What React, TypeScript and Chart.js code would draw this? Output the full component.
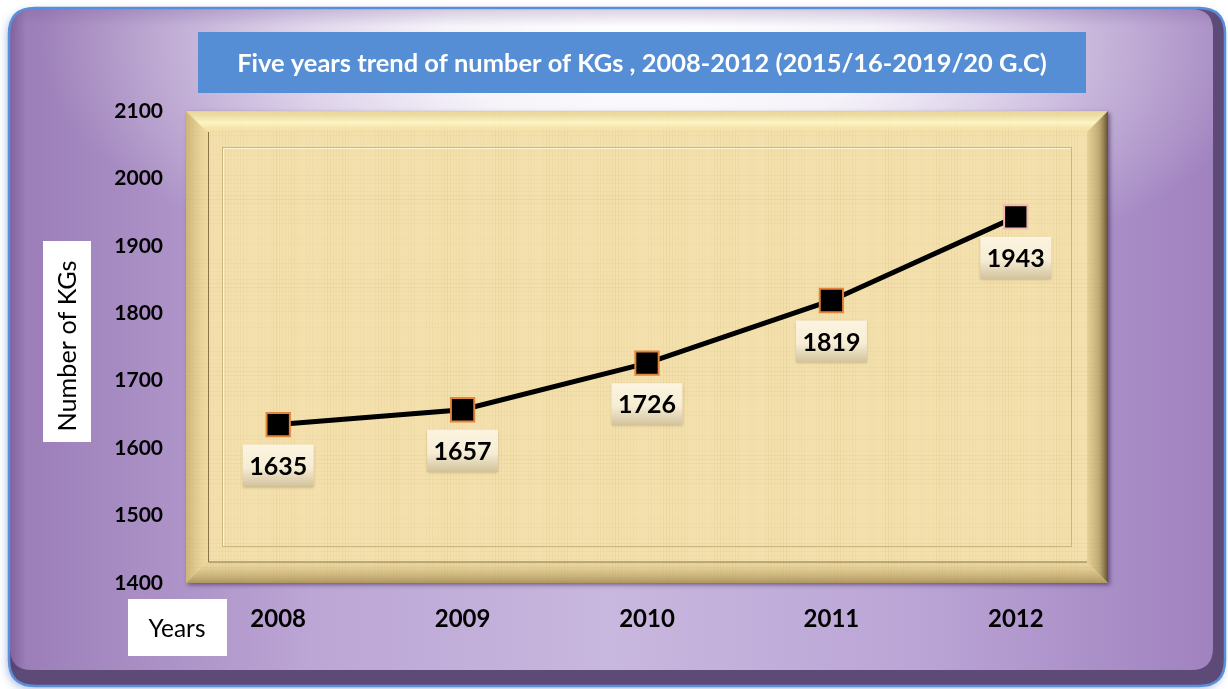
import React, { useEffect, useRef } from 'react';
import { Chart, registerables } from 'chart.js';
Chart.register(...registerables);

const years = ['2008', '2009', '2010', '2011', '2012'];
const kgCounts = [1635, 1657, 1726, 1819, 1943];
const yMin = 1400;
const yMax = 2100;
const yStep = 100;
const titleText = 'Five years trend of number of KGs , 2008-2012 (2015/16-2019/20 G.C)';
const yAxisTitle = 'Number of KGs';
const xAxisTitle = 'Years';
const markerBorders = ['#E3843A', '#E3843A', '#E3843A', '#E3843A', '#F2B9B0'];

const FONT = 'Lato, "Open Sans", sans-serif';

function rr(ctx: CanvasRenderingContext2D, x: number, y: number, w: number, h: number, r: number) {
  ctx.beginPath();
  ctx.moveTo(x + r, y);
  ctx.lineTo(x + w - r, y);
  ctx.quadraticCurveTo(x + w, y, x + w, y + r);
  ctx.lineTo(x + w, y + h - r);
  ctx.quadraticCurveTo(x + w, y + h, x + w - r, y + h);
  ctx.lineTo(x + r, y + h);
  ctx.quadraticCurveTo(x, y + h, x, y + h - r);
  ctx.lineTo(x, y + r);
  ctx.quadraticCurveTo(x, y, x + r, y);
  ctx.closePath();
}

function fitSize(ctx: CanvasRenderingContext2D, text: string, weight: string, targetW: number) {
  ctx.font = `${weight} 100px ${FONT}`;
  const w = ctx.measureText(text).width;
  return (100 * targetW) / w;
}

function poly(ctx: CanvasRenderingContext2D, pts: number[][], fill: any) {
  ctx.beginPath();
  ctx.moveTo(pts[0][0], pts[0][1]);
  for (let i = 1; i < pts.length; i++) ctx.lineTo(pts[i][0], pts[i][1]);
  ctx.closePath();
  ctx.fillStyle = fill;
  ctx.fill();
}

const backgroundPlugin = {
  id: 'bgDecor',
  beforeDraw(chart: any) {
    const ctx: CanvasRenderingContext2D = chart.ctx;
    const W = chart.width;
    const H = chart.height;
    ctx.save();
    ctx.fillStyle = '#ffffff';
    ctx.fillRect(0, 0, W, H);

    ctx.save();
    ctx.shadowColor = 'rgba(70,110,190,0.45)';
    ctx.shadowBlur = 8;
    ctx.shadowOffsetX = -2;
    ctx.shadowOffsetY = 3;
    rr(ctx, 9, 8, 1216, 678, 26);
    ctx.fillStyle = '#5D4A77';
    ctx.fill();
    ctx.restore();

    ctx.save();
    rr(ctx, 9, 8, 1216, 678, 26);
    ctx.clip();
    rr(ctx, 10, 9, 1203, 661, 22);
    const g = ctx.createLinearGradient(10, 0, 1213, 0);
    g.addColorStop(0, '#9A7CB7');
    g.addColorStop(0.25, '#BCA6D5');
    g.addColorStop(0.5, '#C8B7DE');
    g.addColorStop(0.75, '#BBA5D6');
    g.addColorStop(1, '#A082BF');
    ctx.fillStyle = g;
    ctx.fill();
    ctx.save();
    rr(ctx, 10, 9, 1203, 661, 22);
    ctx.clip();
    ctx.translate(660, 45);
    ctx.scale(1, 0.42);
    const rg = ctx.createRadialGradient(0, 0, 0, 0, 0, 620);
    rg.addColorStop(0, 'rgba(255,255,255,1)');
    rg.addColorStop(0.35, 'rgba(255,255,255,0.85)');
    rg.addColorStop(0.7, 'rgba(255,255,255,0.35)');
    rg.addColorStop(1, 'rgba(255,255,255,0)');
    ctx.fillStyle = rg;
    ctx.fillRect(-700, -700, 1400, 1400);
    ctx.restore();
    const lg = ctx.createLinearGradient(10, 0, 26, 0);
    lg.addColorStop(0, 'rgba(80,50,110,0.35)');
    lg.addColorStop(1, 'rgba(80,50,110,0)');
    ctx.fillStyle = lg;
    ctx.fillRect(10, 9, 16, 661);
    const tg = ctx.createLinearGradient(0, 9, 0, 26);
    tg.addColorStop(0, 'rgba(120,90,150,0.25)');
    tg.addColorStop(1, 'rgba(120,90,150,0)');
    ctx.fillStyle = tg;
    ctx.fillRect(10, 9, 1203, 17);
    ctx.restore();

    rr(ctx, 9, 8, 1216, 678, 26);
    ctx.strokeStyle = '#5A8ED8';
    ctx.lineWidth = 2.5;
    ctx.stroke();

    ctx.fillStyle = '#558ED5';
    ctx.fillRect(198, 32, 888, 61);
    const ts = fitSize(ctx, titleText, 'bold', 810);
    ctx.font = `bold ${ts}px ${FONT}`;
    ctx.fillStyle = '#ffffff';
    ctx.textAlign = 'center';
    ctx.textBaseline = 'middle';
    ctx.fillText(titleText, 642, 64);

    ctx.fillStyle = '#ffffff';
    ctx.fillRect(43, 241, 48, 201);
    ctx.fillRect(128, 599, 99, 57);
    ctx.fillStyle = '#000000';
    const ys = fitSize(ctx, yAxisTitle, 'normal', 171);
    ctx.save();
    ctx.translate(68, 346);
    ctx.rotate(-Math.PI / 2);
    ctx.font = `normal ${ys}px ${FONT}`;
    ctx.fillText(yAxisTitle, 0, 0);
    ctx.restore();
    const xs = fitSize(ctx, xAxisTitle, 'normal', 57);
    ctx.font = `normal ${xs}px ${FONT}`;
    ctx.fillText(xAxisTitle, 177, 629);

    const ca = chart.chartArea;
    const L = ca.left, T = ca.top, R = ca.right, B = ca.bottom, bw = 21;
    ctx.save();
    ctx.shadowColor = 'rgba(50,30,70,0.55)';
    ctx.shadowBlur = 4;
    ctx.shadowOffsetX = 2;
    ctx.shadowOffsetY = 2;
    ctx.fillStyle = '#F3E0AC';
    ctx.fillRect(L, T, R - L, B - T);
    ctx.restore();
    ctx.save();
    ctx.beginPath();
    ctx.rect(L, T, R - L, B - T);
    ctx.clip();
    ctx.lineWidth = 1;
    for (let x = L; x < R; x += 3) {
      const a = 0.06 + 0.05 * (Math.sin(x * 0.37) + Math.sin(x * 0.113 + 1.3));
      if (a <= 0) continue;
      ctx.strokeStyle = `rgba(200,165,90,${a.toFixed(3)})`;
      ctx.beginPath();
      ctx.moveTo(x + 0.5, T);
      ctx.lineTo(x + 0.5, B);
      ctx.stroke();
    }
    for (let y = T; y < B; y += 4) {
      const a = 0.05 + 0.05 * (Math.sin(y * 0.29 + 0.7) + Math.sin(y * 0.071));
      if (a <= 0) continue;
      ctx.strokeStyle = `rgba(205,170,95,${a.toFixed(3)})`;
      ctx.beginPath();
      ctx.moveTo(L, y + 0.5);
      ctx.lineTo(R, y + 0.5);
      ctx.stroke();
    }
    ctx.restore();

    const gt = ctx.createLinearGradient(0, T, 0, T + bw);
    gt.addColorStop(0, 'rgba(225,205,140,0.6)');
    gt.addColorStop(0.55, 'rgba(255,250,200,0.8)');
    gt.addColorStop(1, 'rgba(240,222,160,0.5)');
    poly(ctx, [[L, T], [R, T], [R - bw, T + bw], [L + bw, T + bw]], gt);
    const gl = ctx.createLinearGradient(L, 0, L + bw, 0);
    gl.addColorStop(0, 'rgba(175,145,80,0.55)');
    gl.addColorStop(1, 'rgba(230,205,135,0.3)');
    poly(ctx, [[L, T], [L + bw, T + bw], [L + bw, B - bw], [L, B]], gl);
    const gr = ctx.createLinearGradient(R - bw, 0, R, 0);
    gr.addColorStop(0, 'rgba(205,180,115,0.35)');
    gr.addColorStop(0.6, 'rgba(150,128,75,0.6)');
    gr.addColorStop(1, 'rgba(80,65,35,0.9)');
    poly(ctx, [[R, T], [R, B], [R - bw, B - bw], [R - bw, T + bw]], gr);
    const gb = ctx.createLinearGradient(0, B - bw, 0, B);
    gb.addColorStop(0, 'rgba(225,200,135,0.3)');
    gb.addColorStop(1, 'rgba(150,125,70,0.75)');
    poly(ctx, [[L, B], [R, B], [R - bw, B - bw], [L + bw, B - bw]], gb);

    ctx.strokeStyle = 'rgba(110,88,45,0.8)';
    ctx.lineWidth = 1;
    ctx.beginPath();
    ctx.moveTo(L + bw + 1.5, T + bw);
    ctx.lineTo(L + bw + 1.5, B - bw);
    ctx.lineTo(R - bw, B - bw);
    ctx.stroke();
    ctx.strokeStyle = 'rgba(175,150,90,0.55)';
    ctx.strokeRect(L + 36.5, T + 36.5, R - L - 73, B - T - 73);
    ctx.strokeStyle = 'rgba(255,250,215,0.8)';
    ctx.beginPath();
    ctx.moveTo(L + 37.5, B - 37);
    ctx.lineTo(L + 37.5, T + 37.5);
    ctx.lineTo(R - 37, T + 37.5);
    ctx.stroke();
    ctx.restore();
  },
  afterDatasetsDraw(chart: any) {
    const ctx: CanvasRenderingContext2D = chart.ctx;
    const meta = chart.getDatasetMeta(0);
    ctx.save();
    meta.data.forEach((pt: any, i: number) => {
      const bwid = 71, bh = 42;
      const x = pt.x - bwid / 2;
      const y = pt.y + 20;
      ctx.save();
      ctx.shadowColor = 'rgba(90,70,30,0.3)';
      ctx.shadowBlur = 3;
      ctx.shadowOffsetY = 1;
      const g = ctx.createLinearGradient(0, y, 0, y + bh);
      g.addColorStop(0, '#FCF4E0');
      g.addColorStop(0.55, '#F6EDD5');
      g.addColorStop(1, '#D3C39C');
      ctx.fillStyle = g;
      ctx.fillRect(x, y, bwid, bh);
      ctx.restore();
      ctx.fillStyle = '#000000';
      ctx.font = `bold 25px ${FONT}`;
      ctx.textAlign = 'center';
      ctx.textBaseline = 'middle';
      ctx.fillText(String(kgCounts[i]), pt.x, y + bh / 2 + 1);
    });
    ctx.restore();
  },
};

export default function App() {
  const ref = useRef<HTMLCanvasElement | null>(null);
  useEffect(() => {
    if (!ref.current) return;
    const chart = new Chart(ref.current, {
      type: 'line',
      data: {
        labels: years,
        datasets: [
          {
            data: kgCounts,
            borderColor: '#000000',
            borderWidth: 5,
            tension: 0,
            pointStyle: 'rect',
            pointRadius: 16.5,
            pointBackgroundColor: '#000000',
            pointBorderColor: markerBorders,
            pointBorderWidth: 2,
            fill: false,
          },
        ],
      },
      options: {
        responsive: false,
        animation: false,
        devicePixelRatio: 1,
        layout: { padding: { left: 0, top: 111, right: 120, bottom: 0 } },
        plugins: { legend: { display: false }, title: { display: false }, tooltip: { enabled: false } },
        events: [],
        scales: {
          x: {
            type: 'category',
            offset: true,
            grid: { display: false, drawTicks: false },
            border: { display: false },
            ticks: { color: '#000000', font: { family: FONT, size: 24, weight: 'bold' }, padding: 22, maxRotation: 0 },
            afterFit: (s: any) => { s.height = 106; },
          },
          y: {
            min: yMin,
            max: yMax,
            grid: { display: false, drawTicks: false },
            border: { display: false },
            ticks: {
              stepSize: yStep,
              color: '#000000',
              font: { family: FONT, size: 21, weight: 'bold' },
              padding: 23,
              callback: (v: any) => String(v),
            },
            afterFit: (s: any) => { s.width = 186; },
          },
        },
      },
      plugins: [backgroundPlugin],
    });
    return () => chart.destroy();
  }, []);
  return (
    <canvas
      ref={ref}
      width={1228}
      height={689}
      style={{ position: 'absolute', left: 0, top: 0, width: 1228, height: 689 }}
    />
  );
}
